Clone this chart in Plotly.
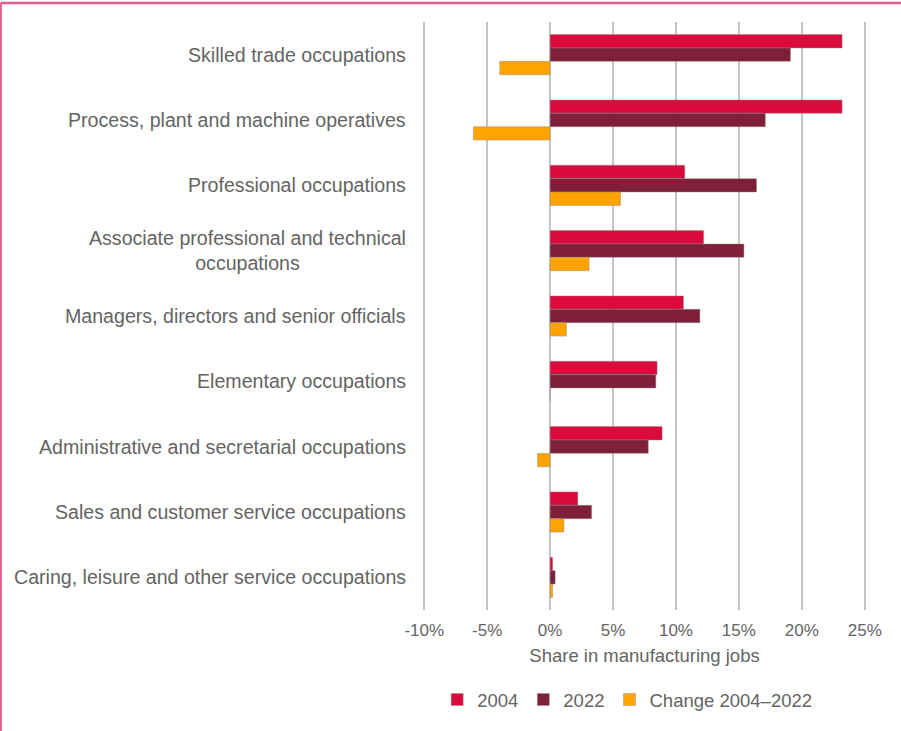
import plotly.graph_objects as go

categories = [
    'Skilled trade occupations',
    'Process, plant and machine operatives',
    'Professional occupations',
    'Associate professional and technical<br>occupations',
    'Managers, directors and senior officials',
    'Elementary occupations',
    'Administrative and secretarial occupations',
    'Sales and customer service occupations',
    'Caring, leisure and other service occupations',
]
share_2004 = [23.2, 23.2, 10.7, 12.2, 10.6, 8.5, 8.9, 2.2, 0.2]
share_2022 = [19.1, 17.1, 16.4, 15.4, 11.9, 8.4, 7.8, 3.3, 0.4]
change = [-4.0, -6.1, 5.6, 3.1, 1.3, 0.0, -1.0, 1.1, 0.2]

tick_vals = [-10, -5, 0, 5, 10, 15, 20, 25]
tick_text = ['-10%', '-5%', '0%', '5%', '10%', '15%', '20%', '25%']

FONT = 'Liberation Sans, Arial, sans-serif'
GREY = '#646464'
edge = dict(color='rgba(140,140,140,0.55)', width=0.8)

fig = go.Figure()
fig.add_trace(go.Bar(y=categories, x=share_2004, orientation='h', name='2004',
                     marker=dict(color='#DC0A3C', line=edge)))
fig.add_trace(go.Bar(y=categories, x=share_2022, orientation='h', name='2022',
                     marker=dict(color='#7F1F3A', line=edge)))
fig.add_trace(go.Bar(y=categories, x=change, orientation='h', name='Change 2004\u20132022',
                     marker=dict(color='#FFA300', line=edge)))

# category labels as annotations so multi-line text is centred
for c in categories:
    fig.add_annotation(x=-0.033, xref='paper', y=c, yref='y', text=c,
                       showarrow=False, xanchor='right', align='center',
                       font=dict(family=FONT, size=19.6, color=GREY))

# pink frame (top and left edges)
fig.add_shape(type='line', xref='paper', yref='paper',
              x0=-0.9535, x1=1.09, y0=1.0325, y1=1.0325,
              line=dict(color='#EE5A8C', width=2.5))
fig.add_shape(type='line', xref='paper', yref='paper',
              x0=-0.9535, x1=-0.9535, y0=1.0325, y1=-0.22,
              line=dict(color='#EE5A8C', width=2.5))

fig.update_layout(
    width=901, height=731,
    margin=dict(l=423, r=35, t=22, b=121),
    barmode='group', bargap=0.385, bargroupgap=0,
    plot_bgcolor='white', paper_bgcolor='white',
    font=dict(family=FONT, color=GREY),
    showlegend=True,
    legend=dict(orientation='h', x=0.032, xanchor='left', y=-0.153, yanchor='middle',
                font=dict(family=FONT, size=18.5, color=GREY),
                itemwidth=30, tracegroupgap=0),
)
fig.update_xaxes(range=[-10.1, 25.1], tickvals=tick_vals, ticktext=tick_text,
                 showgrid=True, gridcolor='#C4C4C4', gridwidth=2,
                 zeroline=True, zerolinecolor='#C4C4C4', zerolinewidth=2,
                 showline=False, ticks='', ticklabelstandoff=8,
                 tickfont=dict(family=FONT, size=17, color=GREY),
                 title=dict(text='Share in manufacturing jobs', standoff=10,
                            font=dict(family=FONT, size=18.5, color=GREY)))
fig.update_yaxes(autorange='reversed', showticklabels=False, showgrid=False,
                 zeroline=False, showline=False, ticks='')

fig.write_html('out.html', config={'displayModeBar': False},
               post_script="document.body.style.margin='0';")
